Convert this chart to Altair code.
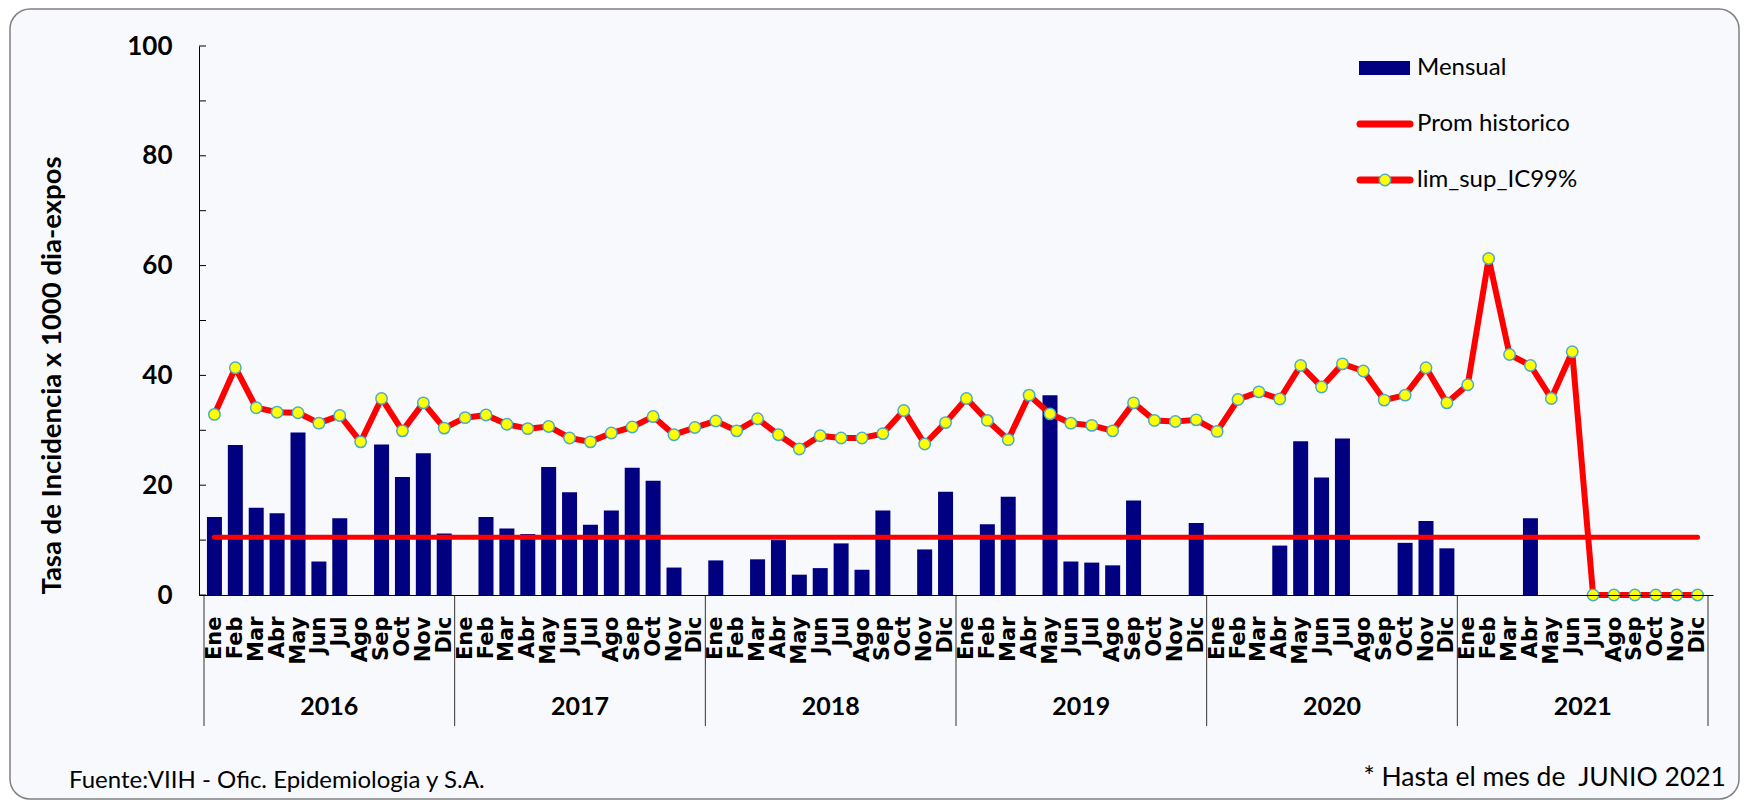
import altair as alt
import pandas as pd

months = ["Ene", "Feb", "Mar", "Abr", "May", "Jun", "Jul", "Ago", "Sep", "Oct", "Nov", "Dic"]
years = ["2016", "2017", "2018", "2019", "2020", "2021"]

mensual_2016 = [14.2, 27.3, 15.9, 14.9, 29.6, 6.1, 14.0, 0, 27.4, 21.5, 25.8, 11.2]
mensual_2017 = [0, 14.2, 12.1, 11.1, 23.3, 18.7, 12.8, 15.4, 23.2, 20.8, 5.0, 0]
mensual_2018 = [6.3, 0, 6.5, 10.0, 3.7, 4.9, 9.4, 4.6, 15.4, 0, 8.3, 18.8]
mensual_2019 = [0, 12.9, 17.9, 0, 36.4, 6.1, 5.9, 5.4, 17.2, 0, 0, 13.1]
mensual_2020 = [0, 0, 0, 9.0, 28.0, 21.4, 28.5, 0, 0, 9.5, 13.5, 8.5]
mensual_2021 = [0, 0, 0, 14.0, 0, 0, 0, 0, 0, 0, 0, 0]

lim_2016 = [32.9, 41.4, 34.1, 33.3, 33.2, 31.3, 32.7, 27.9, 35.8, 29.9, 35.0, 30.4]
lim_2017 = [32.3, 32.8, 31.1, 30.3, 30.7, 28.6, 27.9, 29.5, 30.6, 32.5, 29.2, 30.5]
lim_2018 = [31.7, 29.9, 32.1, 29.2, 26.6, 29.0, 28.6, 28.6, 29.4, 33.6, 27.5, 31.4]
lim_2019 = [35.8, 31.8, 28.3, 36.4, 33.0, 31.3, 30.9, 29.9, 35.0, 31.8, 31.6, 31.9]
lim_2020 = [29.8, 35.6, 37.0, 35.7, 41.8, 37.9, 42.1, 40.8, 35.5, 36.4, 41.4, 35.0]
lim_2021 = [38.3, 61.3, 43.8, 41.8, 35.8, 44.3, 0, 0, 0, 0, 0, 0]

prom_historico = 10.5

legend_labels = ["Mensual", "Prom historico", "lim_sup_IC99%"]
y_title = "Tasa de Incidencia x 1000 dia-expos"
fuente = "Fuente:VIIH - Ofic. Epidemiologia y S.A."
nota = "* Hasta el mes de\u00a0 JUNIO 2021"

mensual = mensual_2016 + mensual_2017 + mensual_2018 + mensual_2019 + mensual_2020 + mensual_2021
lim_sup = lim_2016 + lim_2017 + lim_2018 + lim_2019 + lim_2020 + lim_2021

W, H = 1514, 549
NAVY = "#000080"
RED = "#ff0000"

idx = list(range(len(mensual)))
df_bar = pd.DataFrame({"idx": idx, "value": mensual})
df_bar = df_bar[df_bar["value"] > 0]
df_lim = pd.DataFrame({"idx": idx, "value": lim_sup})
df_prom = pd.DataFrame({"idx": idx, "value": [prom_historico] * len(idx)})
df_year = pd.DataFrame({"idx": [5.5 + 12 * k for k in range(len(years))], "year": years})
df_sep = pd.DataFrame({"idx": [-0.5 + 12 * k for k in range(len(years) + 1)]})
df_tick = pd.DataFrame({"value": list(range(0, 101, 10))})
one = pd.DataFrame({"k": [0]})

xscale = alt.Scale(domain=[-0.5, 71.5], nice=False, zero=False)
yscale = alt.Scale(domain=[0, 100], nice=False)

month_arr = "[" + ",".join(f"'{m}'" for m in months) + "]"
xaxis = alt.Axis(
    values=idx, labelExpr=f"{month_arr}[datum.value % 12]", labelAngle=270,
    labelFont="DejaVu Sans", labelFontWeight="bold", labelFontSize=21, labelColor="black",
    labelPadding=21, labelOverlap=False, labelFlush=False, labelBound=False,
    ticks=False, grid=False, domainColor="black", domainWidth=1, title=None, zindex=1,
)
yaxis = alt.Axis(
    values=[0, 20, 40, 60, 80, 100], labelFont="Lato", labelFontWeight="bold",
    labelFontSize=26, labelColor="black", labelPadding=27, ticks=False, grid=False,
    domainColor="black", domainWidth=1, title=y_title, titleFont="Lato",
    titleFontSize=27.5, titleFontWeight="bold", titleColor="black", titleAngle=270,
    titleX=-147, titleY=329, titleAlign="center", titleBaseline="middle", zindex=1,
)

X = alt.X("idx:Q", scale=xscale, axis=xaxis)
Y = alt.Y("value:Q", scale=yscale, axis=yaxis)

bg = alt.Chart(one).mark_rect(
    cornerRadius=20, fill="#f7f9fc", stroke="#808080", strokeWidth=1.5
).encode(x=alt.value(-189), x2=alt.value(1540), y=alt.value(-37), y2=alt.value(753))

bars = alt.Chart(df_bar).mark_bar(color=NAVY, size=15).encode(x=X, y=Y)
prom = alt.Chart(df_prom).mark_line(color=RED, strokeWidth=5, strokeCap="round").encode(x=X, y=Y)
lim_line = alt.Chart(df_lim).mark_line(color=RED, strokeWidth=6, strokeJoin="round").encode(x=X, y=Y)
lim_pts = alt.Chart(df_lim).mark_point(
    filled=True, fill="yellow", stroke="#4bacc6", strokeWidth=1.5, size=130, opacity=1
).encode(x=X, y=Y)

yticks = alt.Chart(df_tick).mark_rule(color="black", strokeWidth=1).encode(
    x=alt.value(0), x2=alt.value(7), y=Y)

seps = alt.Chart(df_sep).mark_rule(color="#333333", strokeWidth=1).encode(
    x=X, y=alt.value(H), y2=alt.value(H + 131))
year_txt = alt.Chart(df_year).mark_text(
    font="Lato", fontWeight="bold", fontSize=25, color="black", baseline="middle"
).encode(x=X, y=alt.value(H + 112), text="year:N")

leg_rect = alt.Chart(one).mark_rect(color=NAVY).encode(
    x=alt.value(1160), x2=alt.value(1211), y=alt.value(15), y2=alt.value(29))
leg_prom = alt.Chart(one).mark_rule(color=RED, strokeWidth=7, strokeCap="round").encode(
    x=alt.value(1161), x2=alt.value(1211), y=alt.value(78))
leg_lim = alt.Chart(one).mark_rule(color=RED, strokeWidth=7, strokeCap="round").encode(
    x=alt.value(1161), x2=alt.value(1211), y=alt.value(134))
leg_pt = alt.Chart(one).mark_point(
    filled=True, fill="yellow", stroke="#4bacc6", strokeWidth=1.5, size=130, opacity=1
).encode(x=alt.value(1186), y=alt.value(134))

def legtext(label, ypos):
    return alt.Chart(one).mark_text(
        font="Lato", fontSize=24, color="black", align="left", baseline="middle"
    ).encode(x=alt.value(1218), y=alt.value(ypos), text=alt.value(label))

leg_t1 = legtext(legend_labels[0], 22)
leg_t2 = legtext(legend_labels[1], 78)
leg_t3 = legtext(legend_labels[2], 134)

foot1 = alt.Chart(one).mark_text(
    font="Lato", fontSize=24, color="black", align="left", baseline="middle"
).encode(x=alt.value(-130), y=alt.value(735), text=alt.value(fuente))
foot2 = alt.Chart(one).mark_text(
    font="Lato", fontSize=26.5, color="black", align="right", baseline="middle"
).encode(x=alt.value(1527), y=alt.value(732), text=alt.value(nota))

chart = alt.layer(
    bg, bars, prom, lim_line, lim_pts, yticks, seps, year_txt,
    leg_rect, leg_prom, leg_lim, leg_pt, leg_t1, leg_t2, leg_t3, foot1, foot2,
).properties(
    width=W, height=H,
    autosize=alt.AutoSizeParams(type="none"),
    padding={"left": 191, "top": 38, "right": 29, "bottom": 206},
    background="white",
).configure_view(stroke=None)

chart.save("out.html", embed_options={"renderer": "svg", "actions": False})
